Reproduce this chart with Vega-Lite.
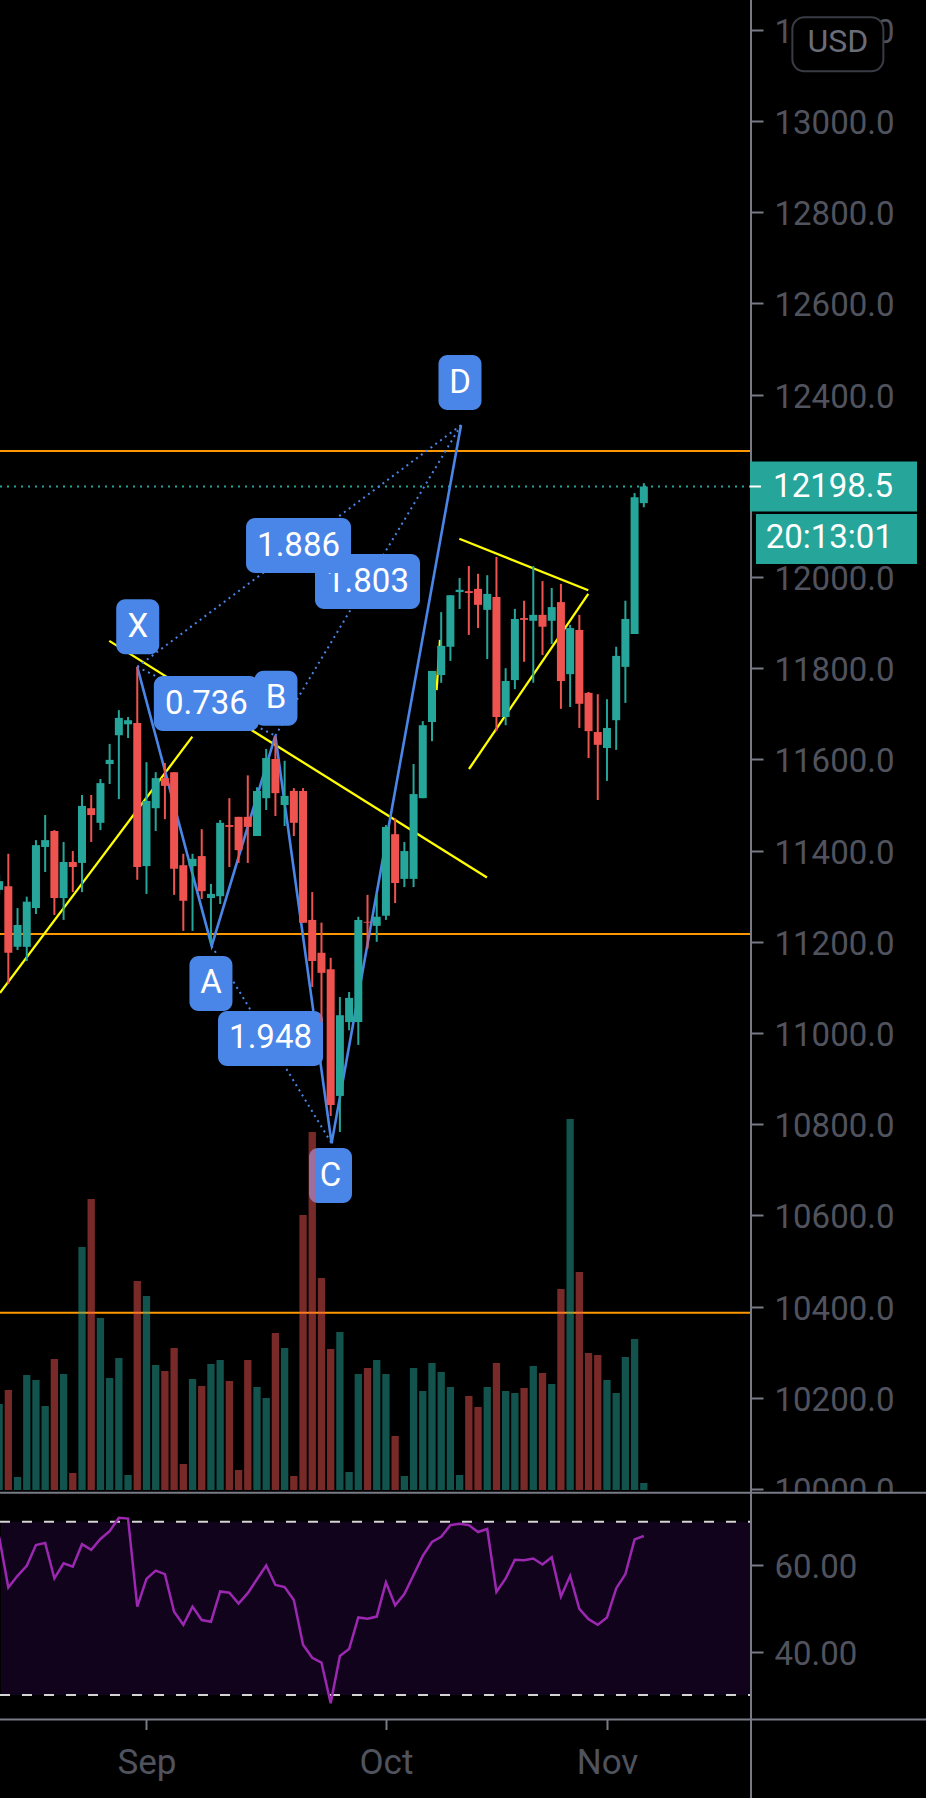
{"$schema":"https://vega.github.io/schema/vega-lite/v6.json","width":926,"height":1798,"padding":0,"autosize":{"type":"none"},"background":"#000000","config":{"view":{"stroke":null}},
"datasets":{
"candles":[
{"i":0,"dir":"up","open":11314,"close":11333,"high":11347,"low":11303,"volume":86,"rsi":66.5},
{"i":1,"dir":"down","open":11322,"close":11176,"high":11393,"low":11108,"volume":100,"rsi":54.8},
{"i":2,"dir":"up","open":11189,"close":11237,"high":11274,"low":11182,"volume":13,"rsi":57.5},
{"i":3,"dir":"up","open":11189,"close":11288,"high":11299,"low":11158,"volume":115,"rsi":59.8},
{"i":4,"dir":"up","open":11274,"close":11412,"high":11423,"low":11261,"volume":110,"rsi":64.6},
{"i":5,"dir":"up","open":11408,"close":11423,"high":11478,"low":11353,"volume":84,"rsi":65.1},
{"i":6,"dir":"down","open":11443,"close":11296,"high":11445,"low":11259,"volume":131,"rsi":56.9},
{"i":7,"dir":"up","open":11296,"close":11375,"high":11419,"low":11248,"volume":116,"rsi":60.4},
{"i":8,"dir":"down","open":11375,"close":11364,"high":11399,"low":11309,"volume":17,"rsi":59.6},
{"i":9,"dir":"up","open":11373,"close":11498,"high":11522,"low":11309,"volume":243,"rsi":64.8},
{"i":10,"dir":"down","open":11493,"close":11478,"high":11522,"low":11419,"volume":291,"rsi":63.5},
{"i":11,"dir":"up","open":11461,"close":11548,"high":11557,"low":11445,"volume":172,"rsi":66.0},
{"i":12,"dir":"up","open":11590,"close":11599,"high":11634,"low":11546,"volume":112,"rsi":67.8},
{"i":13,"dir":"up","open":11653,"close":11691,"high":11708,"low":11513,"volume":132,"rsi":70.9},
{"i":14,"dir":"up","open":11677,"close":11686,"high":11693,"low":11647,"volume":15,"rsi":70.7},
{"i":15,"dir":"down","open":11680,"close":11364,"high":11803,"low":11336,"volume":209,"rsi":50.4},
{"i":16,"dir":"up","open":11366,"close":11509,"high":11594,"low":11305,"volume":194,"rsi":56.8},
{"i":17,"dir":"up","open":11493,"close":11559,"high":11572,"low":11443,"volume":125,"rsi":58.7},
{"i":18,"dir":"down","open":11559,"close":11542,"high":11592,"low":11469,"volume":119,"rsi":57.9},
{"i":19,"dir":"down","open":11572,"close":11360,"high":11572,"low":11303,"volume":142,"rsi":49.2},
{"i":20,"dir":"down","open":11368,"close":11290,"high":11393,"low":11224,"volume":26,"rsi":46.2},
{"i":21,"dir":"up","open":11366,"close":11382,"high":11393,"low":11224,"volume":111,"rsi":50.4},
{"i":22,"dir":"down","open":11388,"close":11311,"high":11447,"low":11294,"volume":104,"rsi":47.3},
{"i":23,"dir":"up","open":11296,"close":11305,"high":11327,"low":11197,"volume":126,"rsi":46.9},
{"i":24,"dir":"up","open":11300,"close":11461,"high":11467,"low":11283,"volume":130,"rsi":53.9},
{"i":25,"dir":"down","open":11456,"close":11452,"high":11515,"low":11364,"volume":109,"rsi":53.6},
{"i":26,"dir":"down","open":11474,"close":11401,"high":11474,"low":11373,"volume":20,"rsi":51.1},
{"i":27,"dir":"down","open":11474,"close":11452,"high":11565,"low":11373,"volume":130,"rsi":53.5},
{"i":28,"dir":"up","open":11432,"close":11531,"high":11539,"low":11432,"volume":103,"rsi":56.7},
{"i":29,"dir":"up","open":11515,"close":11603,"high":11623,"low":11489,"volume":92,"rsi":59.9},
{"i":30,"dir":"down","open":11601,"close":11526,"high":11651,"low":11476,"volume":157,"rsi":55.4},
{"i":31,"dir":"up","open":11500,"close":11520,"high":11597,"low":11454,"volume":142,"rsi":54.9},
{"i":32,"dir":"down","open":11531,"close":11461,"high":11537,"low":11432,"volume":14,"rsi":51.9},
{"i":33,"dir":"down","open":11531,"close":11242,"high":11537,"low":11242,"volume":275,"rsi":41.6},
{"i":34,"dir":"down","open":11248,"close":11158,"high":11309,"low":11101,"volume":358,"rsi":38.6},
{"i":35,"dir":"down","open":11176,"close":11132,"high":11242,"low":11024,"volume":212,"rsi":37.5},
{"i":36,"dir":"down","open":11140,"close":10842,"high":11165,"low":10818,"volume":141,"rsi":28.1},
{"i":37,"dir":"up","open":10862,"close":11039,"high":11079,"low":10783,"volume":158,"rsi":39.0},
{"i":38,"dir":"up","open":11024,"close":11077,"high":11090,"low":11006,"volume":18,"rsi":40.6},
{"i":39,"dir":"up","open":11024,"close":11248,"high":11255,"low":10974,"volume":116,"rsi":47.9},
{"i":40,"dir":"down","open":11244,"close":11242,"high":11303,"low":11185,"volume":122,"rsi":47.6},
{"i":41,"dir":"up","open":11235,"close":11255,"high":11303,"low":11200,"volume":130,"rsi":48.1},
{"i":42,"dir":"up","open":11257,"close":11452,"high":11456,"low":11248,"volume":116,"rsi":56.0},
{"i":43,"dir":"down","open":11436,"close":11329,"high":11471,"low":11285,"volume":54,"rsi":50.7},
{"i":44,"dir":"up","open":11338,"close":11399,"high":11419,"low":11320,"volume":14,"rsi":53.3},
{"i":45,"dir":"up","open":11338,"close":11524,"high":11590,"low":11320,"volume":122,"rsi":57.7},
{"i":46,"dir":"up","open":11515,"close":11675,"high":11684,"low":11515,"volume":99,"rsi":62.1},
{"i":47,"dir":"up","open":11682,"close":11794,"high":11794,"low":11640,"volume":127,"rsi":65.3},
{"i":48,"dir":"up","open":11785,"close":11849,"high":11923,"low":11768,"volume":118,"rsi":66.5},
{"i":49,"dir":"up","open":11847,"close":11960,"high":11960,"low":11816,"volume":103,"rsi":69.2},
{"i":50,"dir":"up","open":11967,"close":11972,"high":11998,"low":11930,"volume":15,"rsi":69.5},
{"i":51,"dir":"down","open":11969,"close":11965,"high":12024,"low":11873,"volume":94,"rsi":69.2},
{"i":52,"dir":"down","open":11974,"close":11939,"high":12007,"low":11888,"volume":83,"rsi":67.6},
{"i":53,"dir":"up","open":11928,"close":11963,"high":12004,"low":11820,"volume":103,"rsi":68.3},
{"i":54,"dir":"down","open":11956,"close":11693,"high":12044,"low":11662,"volume":127,"rsi":53.8},
{"i":55,"dir":"up","open":11693,"close":11772,"high":11800,"low":11675,"volume":99,"rsi":56.9},
{"i":56,"dir":"up","open":11774,"close":11908,"high":11930,"low":11754,"volume":97,"rsi":61.2},
{"i":57,"dir":"down","open":11910,"close":11906,"high":11948,"low":11814,"volume":102,"rsi":61.1},
{"i":58,"dir":"up","open":11904,"close":11917,"high":12024,"low":11768,"volume":124,"rsi":61.5},
{"i":59,"dir":"down","open":11917,"close":11891,"high":11991,"low":11829,"volume":117,"rsi":60.1},
{"i":60,"dir":"up","open":11904,"close":11934,"high":11976,"low":11853,"volume":106,"rsi":61.8},
{"i":61,"dir":"down","open":11945,"close":11772,"high":11985,"low":11711,"volume":201,"rsi":52.7},
{"i":62,"dir":"up","open":11787,"close":11888,"high":11895,"low":11715,"volume":371,"rsi":57.5},
{"i":63,"dir":"down","open":11884,"close":11722,"high":11917,"low":11669,"volume":218,"rsi":49.9},
{"i":64,"dir":"down","open":11746,"close":11662,"high":11748,"low":11603,"volume":137,"rsi":47.5},
{"i":65,"dir":"down","open":11660,"close":11632,"high":11743,"low":11511,"volume":135,"rsi":46.2},
{"i":66,"dir":"up","open":11625,"close":11669,"high":11732,"low":11553,"volume":110,"rsi":47.9},
{"i":67,"dir":"up","open":11686,"close":11827,"high":11847,"low":11621,"volume":97,"rsi":54.6},
{"i":68,"dir":"up","open":11803,"close":11908,"high":11948,"low":11724,"volume":133,"rsi":57.9},
{"i":69,"dir":"up","open":11875,"close":12175,"high":12184,"low":11875,"volume":151,"rsi":65.9},
{"i":70,"dir":"up","open":12162,"close":12198.5,"high":12206,"low":12153,"volume":7,"rsi":66.7}
],
"levels":[{"i":0.0955,"i2":81.64,"price":12276.3},{"i":0.0955,"i2":81.64,"price":11217.1},{"i":0.0955,"i2":81.64,"price":10386.6}],
"yellow":[
{"id":"a","i":0.0955,"price":11088},{"id":"a","i":20.98,"price":11650},
{"id":"b","i":11.96,"price":11860},{"id":"b","i":52.97,"price":11341},
{"id":"c","i":49.97,"price":12084},{"id":"c","i":63.97,"price":11971},
{"id":"d","i":51.02,"price":11579},{"id":"d","i":63.97,"price":11963},
{"id":"e","i":47.5,"price":11752},{"id":"e","i":47.87,"price":11862}
],
"dotted":[
{"id":"XB","i":15.0,"price":11803},{"id":"XB","i":29.99,"price":11652},
{"id":"XD","i":15.0,"price":11803},{"id":"XD","i":50.15,"price":12333},
{"id":"AC","i":23.08,"price":11191},{"id":"AC","i":36.1,"price":10758},
{"id":"BD","i":29.99,"price":11652},{"id":"BD","i":50.15,"price":12333}
],
"xabcd":[{"i":15.0,"price":11803},{"i":23.08,"price":11191},{"i":29.99,"price":11652},{"i":36.1,"price":10758},{"i":50.15,"price":12333}],
"letters":[
{"i":15.05,"price":11891,"text":"X"},{"i":30.06,"price":11734,"text":"B"},{"i":23.0,"price":11108.6,"text":"A"},{"i":35.98,"price":10687.5,"text":"C"},{"i":50.04,"price":12426.5,"text":"D"}],
"ratioBelow":[{"i":40.0,"price":11990,"text":"1.803"}],
"ratios":[{"i":32.51,"price":12069,"text":"1.886"},{"i":22.5,"price":11722.6,"text":"0.736"},{"i":29.47,"price":10988,"text":"1.948"}],
"tagPrice":[{"i":90.6,"price":12198.5}],
"tagPriceText":[{"i":90.55,"price":12198.5,"text":"12198.5"}],
"tagTime":[{"i":90.92,"price":12083.4}],
"tagTimeText":[{"i":90.14,"price":12086,"text":"20:13:01"}],
"usd":[{"i":91.07,"price":13168.3,"text":"USD","textPrice":13174}],
"tagTick":[{"i":81.5,"i2":82.72,"price":12198.5}],
"rsiBand":[{"i":0.2,"i2":81.64,"top":70,"bottom":30}],
"rsiLevels":[{"i":0.0955,"i2":81.64,"rsi":70},{"i":0.0955,"i2":81.64,"rsi":30}],
"separators":[{"i":0.0955,"i2":100.64,"rsi":76.68},{"i":0.0955,"i2":100.64,"rsi":24.36}],
"cover":[{"i":81.64,"i2":100.64,"top":76.68,"bottom":72}],
"axisLine":[{"i":81.64}],
"lastPrice":[{"i":0.0955,"i2":81.64,"price":12198.5}]
},
"resolve":{"scale":{"y":"independent"}},
"encoding":{"x":{"field":"i","type":"quantitative","scale":{"domain":[0.0955,100.64],"nice":false,"zero":false,"padding":0},"axis":{"orient":"bottom","offset":-78.5,"title":null,"grid":false,"domain":false,"values":[16,42,66],"labelExpr":"datum.value==16?'Sep':datum.value==42?'Oct':'Nov'","labelFont":"Roboto","labelFontSize":35,"labelColor":"#50535e","labelPadding":16,"labelOverlap":false,"labelFlush":false,"tickColor":"#787b86","tickSize":10,"tickWidth":2}}},
"layer":[
{"data":{"name":"rsiBand"},"mark":{"type":"rect","color":"#11031c"},"encoding":{"x2":{"field":"i2"},"y":{"field":"top","type":"quantitative","axis":null,"scale":{"domain":[24.36,76.68],"range":[1719.5,1492.7],"nice":false,"zero":false}},"y2":{"field":"bottom"}}},
{"data":{"name":"levels"},"mark":{"type":"rule","color":"#ff9800","strokeWidth":2},"encoding":{"x2":{"field":"i2"},"y":{"field":"price","type":"quantitative","axis":null,"scale":{"domain":[9991.9,13265.4],"range":[1492.7,0],"nice":false,"zero":false}}}},
{"data":{"name":"lastPrice"},"mark":{"type":"rule","color":"#26a69a","strokeWidth":2,"strokeDash":[2,5]},"encoding":{"x2":{"field":"i2"},"y":{"field":"price","type":"quantitative","axis":null,"scale":{"domain":[9991.9,13265.4],"range":[1492.7,0],"nice":false,"zero":false}}}},
{"data":{"name":"yellow"},"mark":{"type":"line","color":"#ffff00","strokeWidth":2.3},"encoding":{"detail":{"field":"id"},"y":{"field":"price","type":"quantitative","axis":null,"scale":{"domain":[9991.9,13265.4],"range":[1492.7,0],"nice":false,"zero":false}}}},
{"data":{"name":"dotted"},"mark":{"type":"line","color":"#4a86e8","strokeWidth":2,"strokeDash":[2,4]},"encoding":{"detail":{"field":"id"},"y":{"field":"price","type":"quantitative","axis":null,"scale":{"domain":[9991.9,13265.4],"range":[1492.7,0],"nice":false,"zero":false}}}},
{"data":{"name":"xabcd"},"mark":{"type":"line","color":"#4a86e8","strokeWidth":2.6},"encoding":{"y":{"field":"price","type":"quantitative","axis":null,"scale":{"domain":[9991.9,13265.4],"range":[1492.7,0],"nice":false,"zero":false}}}},
{"data":{"name":"ratioBelow"},"mark":{"type":"rect","color":"#4a86e8","cornerRadius":9,"width":105,"height":55},"encoding":{"y":{"field":"price","type":"quantitative","axis":null,"scale":{"domain":[9991.9,13265.4],"range":[1492.7,0],"nice":false,"zero":false}}}},
{"data":{"name":"ratioBelow"},"mark":{"type":"text","color":"#ffffff","font":"Roboto","fontSize":33,"baseline":"middle","align":"center"},"encoding":{"text":{"field":"text"},"y":{"field":"price","type":"quantitative","axis":null,"scale":{"domain":[9991.9,13265.4],"range":[1492.7,0],"nice":false,"zero":false}}}},
{"data":{"name":"ratios"},"mark":{"type":"rect","color":"#4a86e8","cornerRadius":9,"width":105,"height":55},"encoding":{"y":{"field":"price","type":"quantitative","axis":null,"scale":{"domain":[9991.9,13265.4],"range":[1492.7,0],"nice":false,"zero":false}}}},
{"data":{"name":"ratios"},"mark":{"type":"text","color":"#ffffff","font":"Roboto","fontSize":33,"baseline":"middle","align":"center"},"encoding":{"text":{"field":"text"},"y":{"field":"price","type":"quantitative","axis":null,"scale":{"domain":[9991.9,13265.4],"range":[1492.7,0],"nice":false,"zero":false}}}},
{"data":{"name":"letters"},"mark":{"type":"rect","color":"#4a86e8","cornerRadius":9,"width":43,"height":55},"encoding":{"y":{"field":"price","type":"quantitative","axis":null,"scale":{"domain":[9991.9,13265.4],"range":[1492.7,0],"nice":false,"zero":false}}}},
{"data":{"name":"letters"},"mark":{"type":"text","color":"#ffffff","font":"Roboto","fontSize":33,"baseline":"middle","align":"center"},"encoding":{"text":{"field":"text"},"y":{"field":"price","type":"quantitative","axis":null,"scale":{"domain":[9991.9,13265.4],"range":[1492.7,0],"nice":false,"zero":false}}}},
{"data":{"name":"candles"},"mark":{"type":"rule","strokeWidth":2},"encoding":{"y":{"field":"low","type":"quantitative","scale":{"domain":[9991.9,13265.4],"range":[1492.7,0],"nice":false,"zero":false},"axis":{"orient":"right","offset":-175,"title":null,"grid":false,"domain":false,"values":[10000,10200,10400,10600,10800,11000,11200,11400,11600,11800,12000,12200,12400,12600,12800,13000,13200],"format":".1f","labelFont":"Roboto","labelFontSize":33,"labelColor":"#50535e","labelPadding":11,"labelOffset":2.5,"labelOverlap":false,"labelBound":false,"labelFlush":false,"tickColor":"#787b86","tickSize":12,"tickWidth":2}},"y2":{"field":"high"},"color":{"field":"dir","type":"nominal","legend":null,"scale":{"domain":["up","down"],"range":["#26a69a","#ef5350"]}}}},
{"data":{"name":"candles"},"mark":{"type":"bar","size":8},"encoding":{"y":{"field":"open","type":"quantitative","axis":null,"scale":{"domain":[9991.9,13265.4],"range":[1492.7,0],"nice":false,"zero":false}},"y2":{"field":"close"},"color":{"field":"dir","type":"nominal","legend":null,"scale":{"domain":["up","down"],"range":["#26a69a","#ef5350"]}}}},
{"data":{"name":"candles"},"mark":{"type":"bar","size":7.3,"opacity":0.5},"encoding":{"y":{"field":"volume","type":"quantitative","axis":null,"scale":{"domain":[0,400],"range":[1490,1090],"nice":false,"zero":true}},"color":{"field":"dir","type":"nominal","legend":null,"scale":{"domain":["up","down"],"range":["#26a69a","#ef5350"]}}}},
{"data":{"name":"rsiLevels"},"mark":{"type":"rule","color":"#d4d4d4","strokeWidth":2,"strokeDash":[10,12]},"encoding":{"x2":{"field":"i2"},"y":{"field":"rsi","type":"quantitative","axis":null,"scale":{"domain":[24.36,76.68],"range":[1719.5,1492.7],"nice":false,"zero":false}}}},
{"data":{"name":"candles"},"mark":{"type":"line","color":"#9c27b0","strokeWidth":2.5},"encoding":{"y":{"field":"rsi","type":"quantitative","scale":{"domain":[24.36,76.68],"range":[1719.5,1492.7],"nice":false,"zero":false},"axis":{"orient":"right","offset":-175,"title":null,"grid":false,"domain":false,"values":[40,60],"format":".2f","labelFont":"Roboto","labelFontSize":33,"labelColor":"#50535e","labelPadding":11,"labelOffset":2.5,"labelOverlap":false,"labelBound":false,"labelFlush":false,"tickColor":"#787b86","tickSize":12,"tickWidth":2}}}},
{"data":{"name":"cover"},"mark":{"type":"rect","color":"#000000"},"encoding":{"x2":{"field":"i2"},"y":{"field":"top","type":"quantitative","axis":null,"scale":{"domain":[24.36,76.68],"range":[1719.5,1492.7],"nice":false,"zero":false}},"y2":{"field":"bottom"}}},
{"data":{"name":"axisLine"},"mark":{"type":"rule","color":"#787b86","strokeWidth":2},"encoding":{}},
{"data":{"name":"separators"},"mark":{"type":"rule","color":"#787b86","strokeWidth":2},"encoding":{"x2":{"field":"i2"},"y":{"field":"rsi","type":"quantitative","axis":null,"scale":{"domain":[24.36,76.68],"range":[1719.5,1492.7],"nice":false,"zero":false}}}},
{"data":{"name":"usd"},"mark":{"type":"rect","fill":"#000000","stroke":"#3a3c44","strokeWidth":2,"cornerRadius":12,"width":91,"height":54},"encoding":{"y":{"field":"price","type":"quantitative","axis":null,"scale":{"domain":[9991.9,13265.4],"range":[1492.7,0],"nice":false,"zero":false}}}},
{"data":{"name":"usd"},"mark":{"type":"text","color":"#6a6d78","font":"Roboto","fontSize":32,"baseline":"middle","align":"center"},"encoding":{"text":{"field":"text"},"y":{"field":"textPrice","type":"quantitative","axis":null,"scale":{"domain":[9991.9,13265.4],"range":[1492.7,0],"nice":false,"zero":false}}}},
{"data":{"name":"tagPrice"},"mark":{"type":"rect","color":"#26a69a","width":167,"height":50},"encoding":{"y":{"field":"price","type":"quantitative","axis":null,"scale":{"domain":[9991.9,13265.4],"range":[1492.7,0],"nice":false,"zero":false}}}},
{"data":{"name":"tagPriceText"},"mark":{"type":"text","color":"#ffffff","font":"Roboto","fontSize":33,"baseline":"middle","align":"center"},"encoding":{"text":{"field":"text"},"y":{"field":"price","type":"quantitative","axis":null,"scale":{"domain":[9991.9,13265.4],"range":[1492.7,0],"nice":false,"zero":false}}}},
{"data":{"name":"tagTick"},"mark":{"type":"rule","color":"#ffffff","strokeWidth":2},"encoding":{"x2":{"field":"i2"},"y":{"field":"price","type":"quantitative","axis":null,"scale":{"domain":[9991.9,13265.4],"range":[1492.7,0],"nice":false,"zero":false}}}},
{"data":{"name":"tagTime"},"mark":{"type":"rect","color":"#26a69a","width":161,"height":50},"encoding":{"y":{"field":"price","type":"quantitative","axis":null,"scale":{"domain":[9991.9,13265.4],"range":[1492.7,0],"nice":false,"zero":false}}}},
{"data":{"name":"tagTimeText"},"mark":{"type":"text","color":"#ffffff","font":"Roboto","fontSize":33,"baseline":"middle","align":"center"},"encoding":{"text":{"field":"text"},"y":{"field":"price","type":"quantitative","axis":null,"scale":{"domain":[9991.9,13265.4],"range":[1492.7,0],"nice":false,"zero":false}}}}
]}
